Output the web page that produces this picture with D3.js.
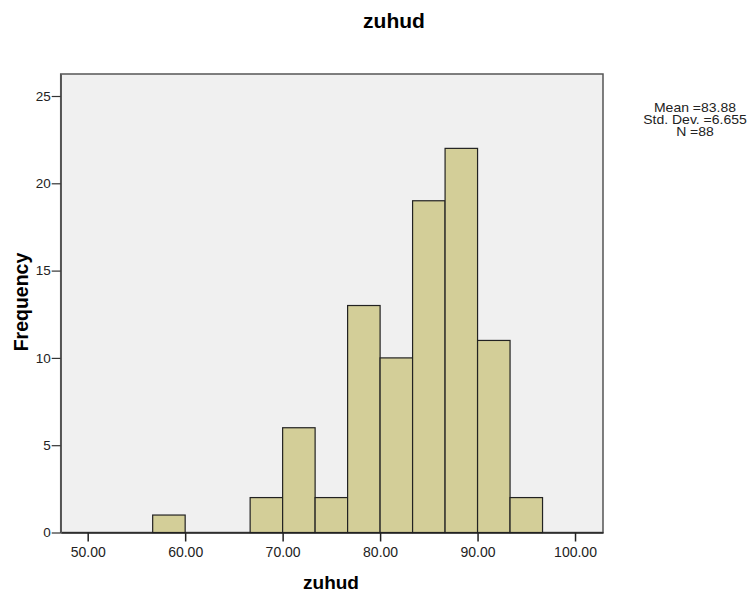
<!DOCTYPE html>
<html>
<head>
<meta charset="utf-8">
<script src="https://cdn.jsdelivr.net/npm/d3@7"></script>
<style>
  body { margin: 0; background: #fff; }
  text { font-family: "Liberation Sans", Arial, sans-serif; }
</style>
</head>
<body>
<svg id="chart"></svg>
<script>
// histogram bins (lower edge of each bin, width 10/3) and counts
const binStart = 56.6667;
const binWidth = 10 / 3;
const counts = [1, 0, 0, 2, 6, 2, 13, 10, 19, 22, 11, 2];
const xTicks = [50, 60, 70, 80, 90, 100];
const yTicks = [0, 5, 10, 15, 20, 25];
const stats = ['Mean =83.88', 'Std. Dev. =6.655', 'N =88'];

const W = 754, H = 598;
const plotL = 60.7, plotR = 603, plotT = 74, plotB = 532.5;

const svg = d3.select('#chart')
    .attr('width', W)
    .attr('height', H);

const x = d3.scaleLinear().domain([47.23, 102.87]).range([plotL, plotR]);
const y = d3.scaleLinear().domain([0, 26.26]).range([plotB, plotT]);

// plot background
svg.append('rect')
    .attr('x', plotL).attr('y', plotT)
    .attr('width', plotR - plotL).attr('height', plotB - plotT)
    .attr('fill', '#f0f0f0')
    .attr('stroke', '#555').attr('stroke-width', 1.5);

const bins = counts.map((c, i) => ({ x0: binStart + i * binWidth, x1: binStart + (i + 1) * binWidth, n: c }))
    .filter(d => d.n > 0);

svg.selectAll('.bar')
    .data(bins)
    .enter()
    .append('rect')
    .attr('class', 'bar')
    .attr('x', d => x(d.x0))
    .attr('y', d => y(d.n))
    .attr('width', d => x(d.x1) - x(d.x0))
    .attr('height', d => plotB - y(d.n))
    .attr('fill', '#d3ce98')
    .attr('stroke', '#222')
    .attr('stroke-width', 1.2);

// axes
const xAxis = d3.axisBottom(x).tickValues(xTicks).tickFormat(d3.format('.2f')).tickSize(9).tickSizeOuter(0);
const yAxis = d3.axisLeft(y).tickValues(yTicks).tickSize(9).tickSizeOuter(0);

const gx = svg.append('g').attr('transform', `translate(0,${plotB})`).call(xAxis);
gx.select('.domain').attr('stroke', '#222').attr('stroke-width', 1.5);
gx.selectAll('.tick line').attr('stroke', '#222').attr('stroke-width', 1.5);
gx.selectAll('.tick text').attr('font-size', 14).attr('fill', '#222').attr('y', 24).attr('dy', null)
    .style('font-family', '"Liberation Sans", Arial, sans-serif');

const gy = svg.append('g').attr('transform', `translate(${plotL},0)`).call(yAxis);
gy.select('.domain').attr('stroke', '#555').attr('stroke-width', 1.5);
gy.selectAll('.tick line').attr('stroke', '#333').attr('stroke-width', 1.2);
gy.selectAll('.tick text').attr('font-size', 13.5).attr('fill', '#222').attr('x', -10)
    .style('font-family', '"Liberation Sans", Arial, sans-serif');

// titles
svg.append('text')
    .attr('x', 394).attr('y', 28)
    .attr('text-anchor', 'middle')
    .attr('font-size', 21).attr('font-weight', 'bold')
    .text('zuhud');

svg.append('text')
    .attr('x', 331).attr('y', 589)
    .attr('text-anchor', 'middle')
    .attr('font-size', 19).attr('font-weight', 'bold')
    .text('zuhud');

svg.append('text')
    .attr('transform', 'translate(28,302) rotate(-90)')
    .attr('text-anchor', 'middle')
    .attr('font-size', 19.5).attr('font-weight', 'bold')
    .text('Frequency');

// summary box, slightly widened like the SPSS rendering
svg.append('g')
    .attr('transform', 'translate(695,0) scale(1.12,1)')
  .selectAll('.stat')
    .data(stats)
    .enter()
    .append('text')
    .attr('class', 'stat')
    .attr('x', 0)
    .attr('y', (d, i) => 112 + i * 12)
    .attr('text-anchor', 'middle')
    .attr('font-size', 12.5)
    .attr('fill', '#222')
    .text(d => d);
</script>
</body>
</html>
